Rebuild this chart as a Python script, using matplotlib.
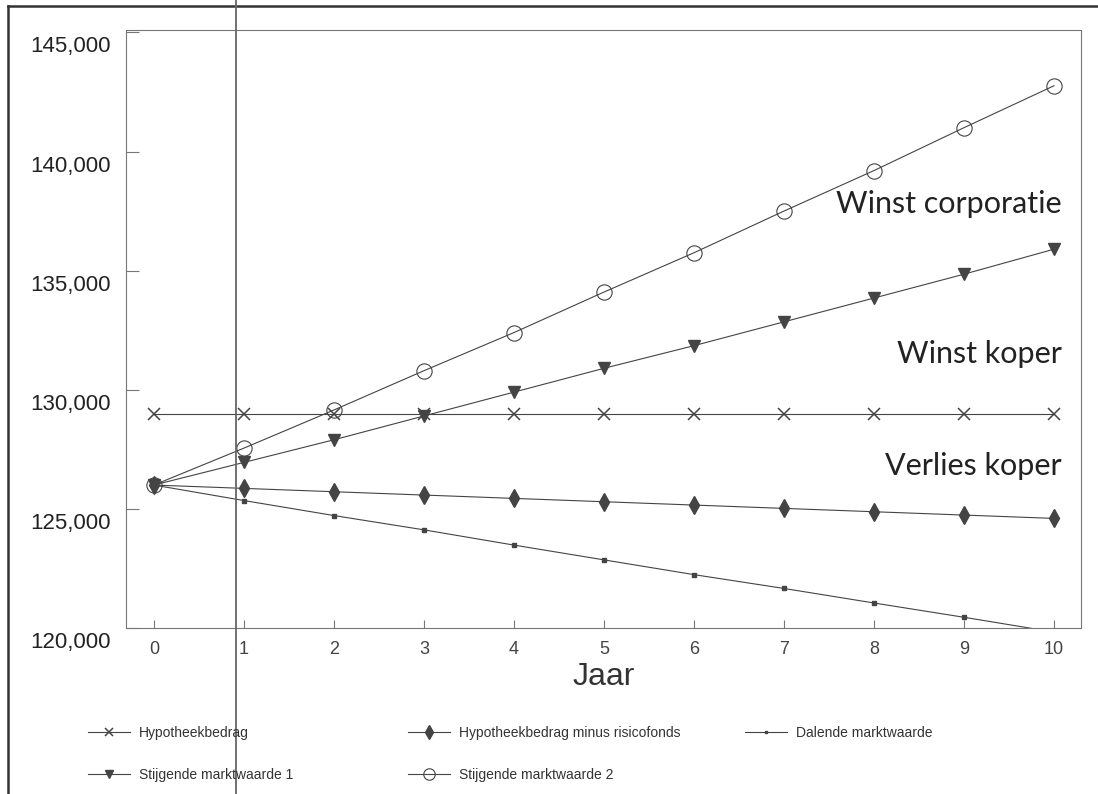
import matplotlib
matplotlib.use("Agg")
import matplotlib.pyplot as plt
from matplotlib.lines import Line2D
from matplotlib.transforms import ScaledTranslation

plt.rcParams['font.family'] = ['Liberation Sans', 'DejaVu Sans']

# ===== DATA =====
jaren = [0, 1, 2, 3, 4, 5, 6, 7, 8, 9, 10]
hypotheekbedrag = [129000] * 11
hypo_minus_risico = [126000, 125860, 125720, 125580, 125440, 125300,
                     125160, 125020, 124880, 124740, 124600]
dalende = [126000, 125350, 124720, 124120, 123480, 122860,
           122240, 121660, 121050, 120450, 119830]
stijgende_1 = [126000, 126950, 127900, 128900, 129900, 130900,
               131850, 132850, 133850, 134850, 135900]
stijgende_2 = [126000, 127550, 129150, 130800, 132400, 134100,
               135750, 137500, 139200, 141000, 142760]

y_ticks = [120000, 125000, 130000, 135000, 140000, 145000]
annotaties = [("Winst corporatie", 137780), ("Winst koper", 131510),
              ("Verlies koper", 126820)]

W, H = 1098, 794
fig = plt.figure(figsize=(W / 100, H / 100), dpi=100)
ax = fig.add_axes([126 / W, 1 - 628 / H, (1081 - 126) / W, (628 - 30) / H])

line_kw = dict(color='#444444', lw=0.8)
h_hypo, = ax.plot(jaren, hypotheekbedrag, marker='x', ms=8, mew=1.1,
                  label='Hypotheekbedrag', **line_kw)
h_minus, = ax.plot(jaren, hypo_minus_risico, marker='d', ms=9,
                   label='Hypotheekbedrag minus risicofonds', **line_kw)
h_dal, = ax.plot(jaren, dalende, marker='s', ms=2.5,
                 label='Dalende marktwaarde', **line_kw)
h_st1, = ax.plot(jaren, stijgende_1, marker='v', ms=8,
                 label='Stijgende marktwaarde 1', **line_kw)
h_st2, = ax.plot(jaren, stijgende_2, marker='o', ms=11, mfc='none', mew=0.8,
                 label='Stijgende marktwaarde 2', **line_kw)

ax.set_xlim(-0.31, 10.3)
ax.set_ylim(120000, 145100)
ax.set_xticks(jaren)
ax.set_yticks(y_ticks)
ax.set_yticklabels([f"{v:,}" for v in y_ticks])

for s in ax.spines.values():
    s.set_color('#777777')
    s.set_linewidth(0.8)
ax.tick_params(axis='y', direction='in', length=9, width=0.8, color='#777777',
               labelsize=16, pad=11, labelcolor='#222222')
ax.tick_params(axis='x', direction='in', length=6, width=0.8, color='#777777',
               labelsize=13, pad=9, labelcolor='#444444')

# y labels sit a bit below their ticks in the original
offset = ScaledTranslation(0, -12 / 100, fig.dpi_scale_trans)
for lab in ax.get_yticklabels():
    lab.set_transform(lab.get_transform() + offset)

ax.set_xlabel('Jaar', fontsize=23, color='#333333', labelpad=3)

for tekst, yv in annotaties:
    ax.text(10.09, yv, tekst, ha='right', va='center', fontsize=22,
            family=['Lato', 'DejaVu Sans'], color='#222222')

# legend in three separate columns below the plot
leg_kw = dict(loc='upper left', frameon=False, fontsize=10, borderpad=0,
              borderaxespad=0, handlelength=3.0, handletextpad=0.65,
              labelspacing=2.0, labelcolor='#333333', markerscale=0.75)
columns = [([h_hypo, h_st1], 88), ([h_minus, h_st2], 408), ([h_dal], 745)]
for handles, x0 in columns:
    fig.legend(handles=handles, bbox_to_anchor=(x0 / W, 1 - 726 / H), **leg_kw)

# frame of the scanned page and the scan line
fig.add_artist(Line2D([8 / W, 1], [1 - 6 / H] * 2, transform=fig.transFigure,
                      color='#333333', lw=1.8))
fig.add_artist(Line2D([8 / W] * 2, [0, 1 - 6 / H], transform=fig.transFigure,
                      color='#333333', lw=1.8))
fig.add_artist(Line2D([236 / W] * 2, [0, 1], transform=fig.transFigure,
                      color='#666666', lw=1.3))

fig.savefig('out.png', dpi=100)
